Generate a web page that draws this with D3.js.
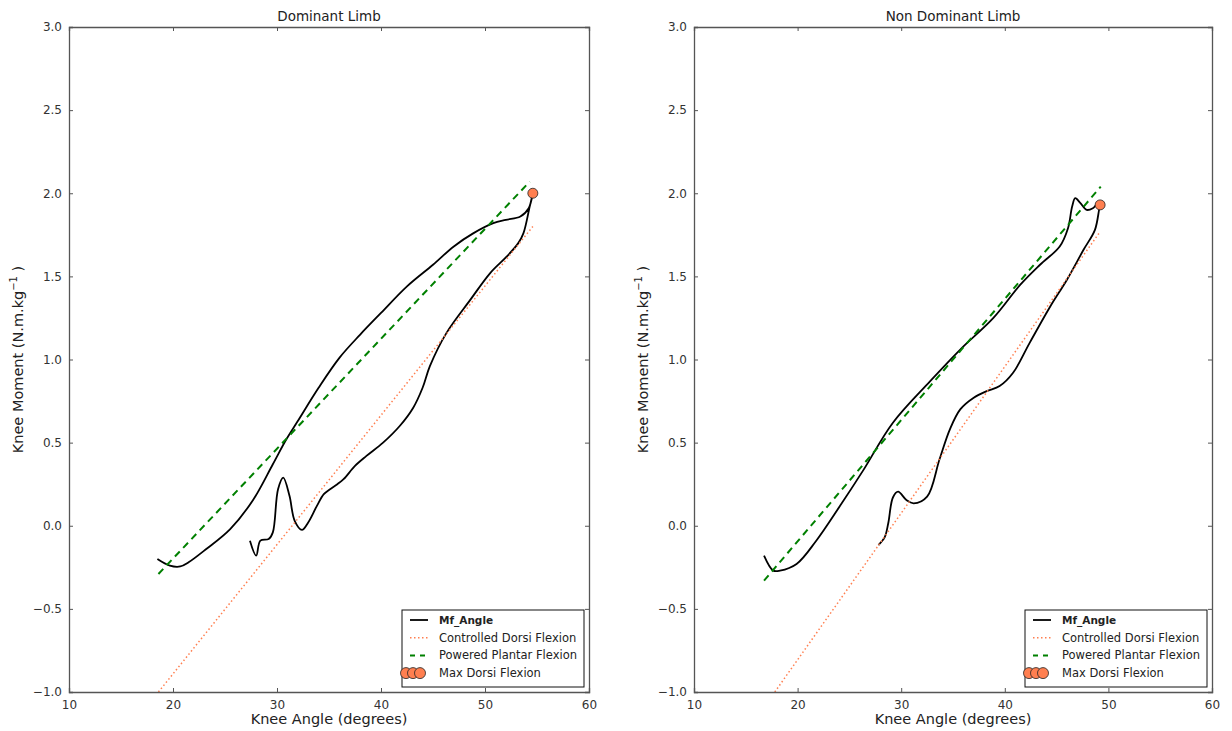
<!DOCTYPE html>
<html lang="en">
    <head>
        <meta charset="utf-8">
        <title>Knee Moment vs Angle</title>
        <script type="text/javascript" src="https://d3js.org/d3.v7.min.js"></script>
        <style>
          body { margin: 0; background: #fff; }
          text { font-family: "DejaVu Sans", sans-serif; }
        </style>
    </head>
    <body>
        <script type="text/javascript">

        var w = 1232;
        var h = 731;

        var titles = ["Dominant Limb", "Non Dominant Limb"];
        var xTicks = [10, 20, 30, 40, 50, 60];
        var yTicks = [-1.0, -0.5, 0.0, 0.5, 1.0, 1.5, 2.0, 2.5, 3.0];
        var legendLabels = ["Mf_Angle", "Controlled Dorsi Flexion", "Powered Plantar Flexion", "Max Dorsi Flexion"];

        // dominant limb: moment vs angle loop
        var domAngle = [27.4, 28.0, 28.4, 29.2, 29.6, 30.1, 30.6, 31.2, 31.7, 32.4, 33.0, 33.8, 34.5, 35.1, 35.8, 36.4,
                        37.5, 38.6, 40.2, 41.8, 43.1, 44.0, 44.7, 46.3, 48.6, 50.5, 52.1, 53.2, 53.7, 54.3, 54.6,
                        54.2, 53.4, 52.0, 50.8, 48.9, 47.0, 45.0, 42.5, 40.0, 38.0, 36.0, 34.0, 32.0, 30.9, 29.6,
                        27.7, 25.5, 23.2, 21.5, 20.7, 19.7, 18.5];
        var domMoment = [-0.09, -0.18, -0.09, -0.08, -0.04, 0.22, 0.29, 0.18, 0.03, -0.025, 0.02, 0.115, 0.19, 0.22, 0.25, 0.28,
                         0.36, 0.42, 0.50, 0.60, 0.71, 0.83, 0.96, 1.16, 1.36, 1.52, 1.62, 1.70, 1.76, 1.92, 2.0,
                         1.91, 1.86, 1.84, 1.82, 1.76, 1.68, 1.57, 1.44, 1.28, 1.15, 1.01, 0.83, 0.63, 0.52, 0.37,
                         0.155, -0.02, -0.14, -0.22, -0.245, -0.24, -0.2];
        var domControlled = [[18.6, -1.0], [54.6, 1.80]];
        var domPowered = [[18.6, -0.29], [54.3, 2.07]];
        var domMax = [54.6, 2.0];

        // non dominant limb
        var nonAngle = [27.8, 28.4, 28.75, 29.2, 29.7, 30.5, 31.2, 32.5, 33.7, 34.7, 35.7, 37.0, 38.25, 39.5, 40.8,
                        42.4, 44.4, 46.0, 47.6, 48.7, 49.1, 49.2, 49.0, 48.5, 47.9, 47.3, 46.8, 46.5, 46.1, 45.3,
                        43.4, 41.5, 38.9, 35.7, 32.8, 29.2, 26.3, 24.1, 21.8, 19.9, 18.3, 17.65, 16.76];
        var nonMoment = [-0.116, -0.07, 0.015, 0.17, 0.205, 0.155, 0.135, 0.175, 0.40, 0.58, 0.70, 0.77, 0.81, 0.84, 0.92,
                         1.10, 1.32, 1.48, 1.66, 1.78, 1.90, 1.93, 1.94, 1.91, 1.90, 1.94, 1.97, 1.92, 1.79, 1.68,
                         1.57, 1.45, 1.25, 1.06, 0.87, 0.62, 0.33, 0.12, -0.09, -0.23, -0.27, -0.27, -0.18];
        var nonControlled = [[17.8, -1.0], [49.1, 1.76]];
        var nonPowered = [[16.76, -0.33], [49.26, 2.04]];
        var nonMax = [49.2, 1.93];

        var panels = [
          { left: 69, right: 589, angle: domAngle, moment: domMoment, controlled: domControlled, powered: domPowered, max: domMax },
          { left: 694, right: 1212, angle: nonAngle, moment: nonMoment, controlled: nonControlled, powered: nonPowered, max: nonMax }
        ];
        var plotTop = 27, plotBottom = 692;
        var coral = "#ff7f50";
        var frame = "#555";

        var svg = d3.select("body")
                    .append("svg")
                    .attr("width", w)
                    .attr("height", h);

        panels.forEach(function(p, i) {
          var x = d3.scaleLinear().domain([10, 60]).range([p.left, p.right]);
          var y = d3.scaleLinear().domain([-1, 3]).range([plotBottom, plotTop]);
          var g = svg.append("g");

          var clipId = "clip" + i;
          g.append("clipPath").attr("id", clipId)
            .append("rect").attr("x", p.left).attr("y", plotTop)
            .attr("width", p.right - p.left).attr("height", plotBottom - plotTop);

          var plot = g.append("g").attr("clip-path", "url(#" + clipId + ")");
          var line = d3.line().x(function(d) { return x(d[0]); }).y(function(d) { return y(d[1]); });

          var loop = p.angle.map(function(a, k) { return [a, p.moment[k]]; });
          plot.append("path")
            .attr("d", line.curve(d3.curveCatmullRom.alpha(0.5))(loop))
            .attr("fill", "none").attr("stroke", "#000").attr("stroke-width", 1.8);

          line.curve(d3.curveLinear);
          plot.append("path")
            .attr("d", line(p.controlled))
            .attr("fill", "none").attr("stroke", coral).attr("stroke-width", 1.5)
            .attr("stroke-dasharray", "1.5,2.5");
          plot.append("path")
            .attr("d", line(p.powered))
            .attr("fill", "none").attr("stroke", "#008000").attr("stroke-width", 2)
            .attr("stroke-dasharray", "7,5");
          plot.append("circle")
            .attr("cx", x(p.max[0])).attr("cy", y(p.max[1])).attr("r", 5)
            .attr("fill", coral).attr("stroke", "#222").attr("stroke-width", 0.8);

          // axes with inward ticks on all four sides
          var axB = g.append("g").attr("transform", "translate(0," + plotBottom + ")")
            .call(d3.axisBottom(x).tickValues(xTicks).tickSize(-4).tickPadding(8).tickFormat(d3.format("d")));
          var axT = g.append("g").attr("transform", "translate(0," + plotTop + ")")
            .call(d3.axisTop(x).tickValues(xTicks).tickSize(-4).tickFormat(""));
          var axL = g.append("g").attr("transform", "translate(" + p.left + ",0)")
            .call(d3.axisLeft(y).tickValues(yTicks).tickSize(-4).tickPadding(7)
              .tickFormat(function(d) { return d3.format(".1f")(d).replace("-", "\u2212"); }));
          var axR = g.append("g").attr("transform", "translate(" + p.right + ",0)")
            .call(d3.axisRight(y).tickValues(yTicks).tickSize(-4).tickFormat(""));
          [axB, axT, axL, axR].forEach(function(a) {
            a.select(".domain").attr("stroke", frame).attr("stroke-width", 1.3);
            a.selectAll(".tick line").attr("stroke", frame);
            a.selectAll(".tick text").attr("font-size", 12).attr("fill", "#333")
              .attr("font-family", "DejaVu Sans");
          });

          var cx = (p.left + p.right) / 2;
          g.append("text").attr("x", cx).attr("y", 21).attr("text-anchor", "middle")
            .attr("font-size", 13.5).attr("fill", "#222").text(titles[i]);
          g.append("text").attr("x", cx).attr("y", 724).attr("text-anchor", "middle")
            .attr("font-size", 14.5).attr("fill", "#222").text("Knee Angle (degrees)");
          var yl = g.append("text")
            .attr("transform", "translate(" + (p.left - 46) + "," + ((plotTop + plotBottom) / 2) + ") rotate(-90)")
            .attr("text-anchor", "middle").attr("font-size", 14.5).attr("fill", "#222");
          yl.append("tspan").text("Knee Moment (N.m.kg");
          yl.append("tspan").attr("font-size", 10).attr("dy", -6).text("\u22121");
          yl.append("tspan").attr("dy", 6).text(" )");

          // legend
          var lw = 182, lh = 77;
          var lx = p.right - 5 - lw, ly = plotBottom - 5 - lh;
          var leg = g.append("g").attr("transform", "translate(" + lx + "," + ly + ")");
          leg.append("rect").attr("width", lw).attr("height", lh)
            .attr("fill", "#fff").attr("stroke", "#111").attr("stroke-width", 1);
          legendLabels.forEach(function(label, k) {
            var ry = 10 + k * 17.7;
            if (k === 0) {
              leg.append("line").attr("x1", 8).attr("x2", 26).attr("y1", ry).attr("y2", ry)
                .attr("stroke", "#000").attr("stroke-width", 1.8);
            } else if (k === 1) {
              leg.append("line").attr("x1", 8).attr("x2", 26).attr("y1", ry).attr("y2", ry)
                .attr("stroke", coral).attr("stroke-width", 1.5).attr("stroke-dasharray", "1.5,2.5");
            } else if (k === 2) {
              leg.append("line").attr("x1", 8).attr("x2", 26).attr("y1", ry).attr("y2", ry)
                .attr("stroke", "#008000").attr("stroke-width", 2).attr("stroke-dasharray", "5,5");
            } else {
              [4, 11, 18].forEach(function(mx) {
                leg.append("circle").attr("cx", mx).attr("cy", ry).attr("r", 5.5)
                  .attr("fill", coral).attr("stroke", "#222").attr("stroke-width", 0.8);
              });
            }
            leg.append("text").attr("x", 37).attr("y", ry + 4)
              .attr("font-size", k === 0 ? 10.5 : 11.5)
              .attr("font-weight", k === 0 ? "bold" : "normal")
              .attr("fill", "#222").text(label);
          });
        });

        </script>
    </body>
</html>
